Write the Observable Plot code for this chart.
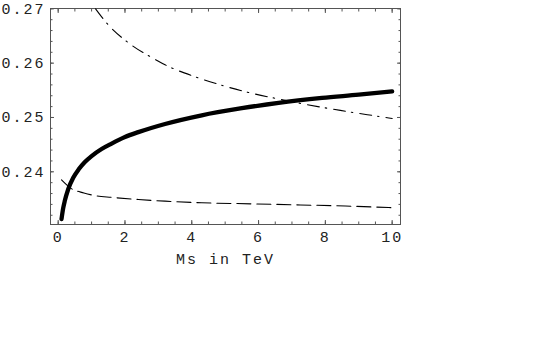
<!DOCTYPE html>
<html><head><meta charset="utf-8">
<script src="https://cdn.jsdelivr.net/npm/d3@7"></script>
<script src="https://cdn.jsdelivr.net/npm/@observablehq/plot@0.6"></script>
<style>
body{margin:0;background:#fff}
#chart svg text{letter-spacing:2px}
</style>
</head><body><div id="chart"></div>
<script>
// Thick solid curve
const solidX = [0.1, 0.15, 0.2, 0.3, 0.45, 0.62, 0.8, 1.0, 1.3, 1.6, 2.0, 2.4, 3.2, 4.3, 5.5, 6.6, 7.9, 9.0, 10];
const solidY = [0.2313, 0.2333, 0.2347, 0.2368, 0.2389, 0.2405, 0.2418, 0.2429, 0.2442, 0.2452, 0.2464, 0.2473, 0.2488, 0.2504, 0.2517, 0.2527, 0.2536, 0.2542, 0.2548];
// Dashed curve
const dashX = [0.1, 0.37, 0.77, 1.12, 1.6, 2.4, 3.2, 4.3, 5.8, 7.25, 8.6, 10];
const dashY = [0.2385, 0.2370, 0.2361, 0.2356, 0.2353, 0.2349, 0.2346, 0.2343, 0.2341, 0.2339, 0.2337, 0.2334];
// Dash-dot curve
const dotX = [1.12, 1.52, 2.07, 2.96, 3.2, 4.1, 4.86, 5.7, 6.6, 7.16, 8.45, 9.9, 10];
const dotY = [0.2700, 0.2669, 0.2639, 0.2605, 0.2597, 0.2575, 0.2560, 0.2546, 0.2534, 0.2527, 0.2513, 0.2499, 0.2498];

const xTicks = [0, 2, 4, 6, 8, 10];
const xTickLabels = ["0", "2", "4", "6", "8", "10"];
const yTicks = [0.24, 0.25, 0.26, 0.27];
const yTickLabels = ["0.24", "0.25", "0.26", "0.27"];
const xMinor = d3.range(0, 10.001, 0.5);
const yMinor = d3.range(0.232, 0.2701, 0.002);
const xLabel = "Ms in TeV";

const solid = solidX.map((x, i) => ({x, y: solidY[i]}));
const dashed = dashX.map((x, i) => ({x, y: dashY[i]}));
const dashdot = dotX.map((x, i) => ({x, y: dotY[i]}));

const frameColor = "#555";
const textColor = "#222";

const chart = Plot.plot({
  width: 545,
  height: 337,
  marginLeft: 50,
  marginRight: 145,
  marginTop: 8,
  marginBottom: 113,
  style: {fontFamily: "'Liberation Mono', monospace", fontSize: "15px", background: "#fff"},
  x: {domain: [-0.23, 10.25]},
  y: {domain: [0.2303, 0.27006]},
  marks: [
    Plot.frame({stroke: frameColor, strokeWidth: 1}),
    // major inward ticks
    Plot.axisX(xTicks, {anchor: "bottom", tickSize: -4, text: null, label: null, stroke: frameColor}),
    Plot.axisX(xTicks, {anchor: "top", tickSize: -4, text: null, label: null, stroke: frameColor}),
    Plot.axisY(yTicks, {anchor: "left", tickSize: -4, text: null, label: null, stroke: frameColor}),
    Plot.axisY(yTicks, {anchor: "right", tickSize: -4, text: null, label: null, stroke: frameColor}),
    // minor inward ticks
    Plot.axisX(xMinor, {anchor: "bottom", tickSize: -2.5, text: null, label: null, stroke: frameColor}),
    Plot.axisX(xMinor, {anchor: "top", tickSize: -2.5, text: null, label: null, stroke: frameColor}),
    Plot.axisY(yMinor, {anchor: "left", tickSize: -2.5, text: null, label: null, stroke: frameColor}),
    Plot.axisY(yMinor, {anchor: "right", tickSize: -2.5, text: null, label: null, stroke: frameColor}),
    // labels
    Plot.axisX(xTicks, {anchor: "bottom", tickSize: 0, tickPadding: 6.5, fill: textColor,
      tickFormat: (d) => xTickLabels[xTicks.indexOf(d)],
      label: xLabel, labelAnchor: "center", labelArrow: "none", labelOffset: 39}),
    Plot.axisY(yTicks, {anchor: "left", tickSize: 0, tickPadding: 5, fill: textColor,
      tickFormat: (d) => yTickLabels[yTicks.indexOf(d)], label: null}),
    // curves
    Plot.line(dashdot, {x: "x", y: "y", stroke: "black", strokeWidth: 1.1, strokeDasharray: "12,6,1.5,7", curve: "monotone-x", clip: true}),
    Plot.line(dashed, {x: "x", y: "y", stroke: "black", strokeWidth: 1.1, strokeDasharray: "14,6", curve: "monotone-x", clip: true}),
    Plot.line(solid, {x: "x", y: "y", stroke: "black", strokeWidth: 4.3, curve: "monotone-x", clip: true})
  ]
});
document.getElementById("chart").appendChild(chart);
</script>
</body></html>
